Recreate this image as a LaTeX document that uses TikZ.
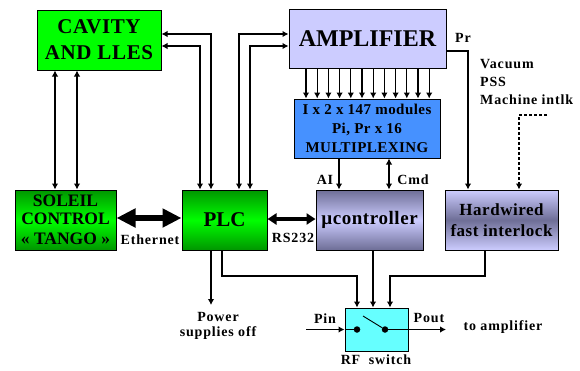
\documentclass[tikz,border=0pt]{standalone}
\usepackage{fontspec}
\setmainfont{Liberation Serif}
\newfontfamily\lblfont[LetterSpace=6]{Liberation Serif}
\newfontfamily\boxfont[LetterSpace=3]{Liberation Serif}
\usetikzlibrary{arrows.meta,calc}
\definecolor{lightviolet}{RGB}{204,204,255}
\definecolor{darkviolet}{RGB}{110,110,150}
\definecolor{muxblue}{RGB}{70,145,255}
\definecolor{darkgreen}{RGB}{0,150,0}
\definecolor{switchcyan}{RGB}{102,255,255}
\tikzset{
  blockbox/.style={draw=black,line width=1pt,inner sep=0pt,align=center,font=\bfseries},
  lbl/.style={inner sep=0pt,align=left,font=\lblfont\fontsize{14}{18}\selectfont\bfseries},
  wire/.style={line width=1.1pt,>={Latex[length=6pt,width=6.5pt]}},
  fatwire/.style={line width=5.5pt,>={Triangle[length=19pt,width=18pt]}},
  thinfat/.style={line width=4pt,>={Triangle[length=9pt,width=11pt]}},
  contact/.style={circle,fill=black,inner sep=0pt,minimum size=6.5pt},
}
\begin{document}
\begin{tikzpicture}[x=1pt,y=-1pt]
  \useasboundingbox (0,0) rectangle (580,370);

  % blocks
  \node[blockbox,fill=green,minimum width=124pt,minimum height=60pt,font=\boxfont\bfseries\fontsize{21}{26}\selectfont] (cavity) at (99,40) {CAVITY\\AND LLES};
  \node[blockbox,fill=lightviolet,minimum width=157pt,minimum height=59pt,font=\bfseries\fontsize{24}{26}\selectfont] (amp) at (367.5,38.5) {AMPLIFIER};
  \node[blockbox,fill=muxblue,minimum width=146pt,minimum height=59pt,font=\boxfont\bfseries\fontsize{15}{19}\selectfont] (mux) at (367,128.5) {I x 2 x 147 modules\\Pi, Pr x 16\\MULTIPLEXING};
  \node[blockbox,top color=darkgreen,bottom color=darkgreen,middle color=green,minimum width=101pt,minimum height=60pt,font=\bfseries\fontsize{17.5}{17.5}\selectfont] (soleil) at (65.5,220) {SOLEIL\\CONTROL\\[2.5pt]«~TANGO~»};
  \node[blockbox,top color=darkgreen,bottom color=darkgreen,middle color=green,minimum width=85pt,minimum height=60pt,font=\bfseries\fontsize{21}{24}\selectfont] (plc) at (224.5,220) {PLC};
  \node[blockbox,top color=darkviolet,bottom color=darkviolet,middle color=lightviolet,minimum width=107pt,minimum height=60pt,font=\boxfont\bfseries\fontsize{19}{24}\selectfont] (ctrl) at (369.5,220) {µcontroller};
  \node[blockbox,top color=lightviolet,bottom color=lightviolet,middle color=darkviolet,minimum width=113pt,minimum height=60pt,font=\boxfont\bfseries\fontsize{17}{21}\selectfont] (fast) at (501.5,220) {Hardwired\\fast interlock};
  \node[blockbox,fill=switchcyan,minimum width=63pt,minimum height=43pt] (switch) at (376.5,329.5) {};

  % cavity links
  \foreach \x in {55,77} {
    \draw[wire,<->] (cavity.south -| \x,0) -- (soleil.north -| \x,0);
  }
  \foreach \y/\x in {34/211,46/200} {
    \draw[wire,<->] (cavity.east |- 0,\y) -| (plc.north -| \x,0);
  }
  \foreach \y/\x in {34/239,46/250} {
    \draw[wire,<->] (amp.west |- 0,\y) -| (plc.north -| \x,0);
  }

  % amplifier to multiplexing
  \foreach \i in {0,...,11} {
    \draw[wire,->] (amp.south -| {306+\i*11.2},0) -- (mux.north -| {306+\i*11.2},0);
  }
  \draw[wire,->] (mux.south -| 339,0) -- (ctrl.north -| 339,0);
  \draw[wire,<->] (mux.south -| 389,0) -- (ctrl.north -| 389,0);

  % interlock
  \draw[wire,->] (amp.east |- 0,51) -| (fast.north -| 468,0);
  \coordinate (intlk) at (547,115);
  \draw[wire,->,densely dashed] (intlk) -| (fast.north -| 519,0);

  % fat links
  \draw[fatwire,<->] (soleil.east |- 0,218) -- (plc.west |- 0,218);
  \draw[thinfat,<->] (plc.east |- 0,219) -- (ctrl.west |- 0,219);

  % outputs
  \draw[wire,->] (plc.south -| 211,0) -- (211,305);
  \draw[wire,->] (plc.south -| 222,0) |- (357,276) -- (switch.north -| 357,0);
  \draw[wire,->] (ctrl.south -| 373,0) -- (switch.north -| 373,0);
  \draw[wire,->] (fast.south -| 485,0) |- (390,276) -- (switch.north -| 390,0);

  % switch
  \node[contact] (contacta) at (357,329.5) {};
  \node[contact] (contactb) at (385,329.5) {};
  \coordinate (pinend) at (306,329.5);
  \coordinate (poutend) at (446,329.5);
  \draw[wire,->] (pinend) -- (switch.west);
  \draw[wire] (switch.west) -- (contacta);
  \draw[wire,->] (contactb) -- (poutend);
  \draw[line width=0.9pt] (contactb) -- (363,316);

  % labels
  \node[lbl] (prlabel) at (463,38) {Pr};
  \node[lbl,anchor=north west] (intlklabel) at (480,59) {Vacuum\\PSS\\Machine intlk};
  \node[lbl] (ailabel) at (325,180) {AI};
  \node[lbl] (cmdlabel) at (413,180) {Cmd};
  \node[lbl] (ethlabel) at (150,240) {Ethernet};
  \node[lbl] (rslabel) at (293,238) {RS232};
  \node[lbl,align=center,font=\lblfont\fontsize{14}{15.5}\selectfont\bfseries] (powerlabel) at (218,326) {Power\\supplies off};
  \node[lbl] (pinlabel) at (325,318.5) {Pin};
  \node[lbl] (poutlabel) at (429,318) {Pout};
  \node[lbl] (amplabel) at (503,327) {to amplifier};
  \node[lbl] (rflabel) at (376,360) {RF~ switch};
\end{tikzpicture}
\end{document}
